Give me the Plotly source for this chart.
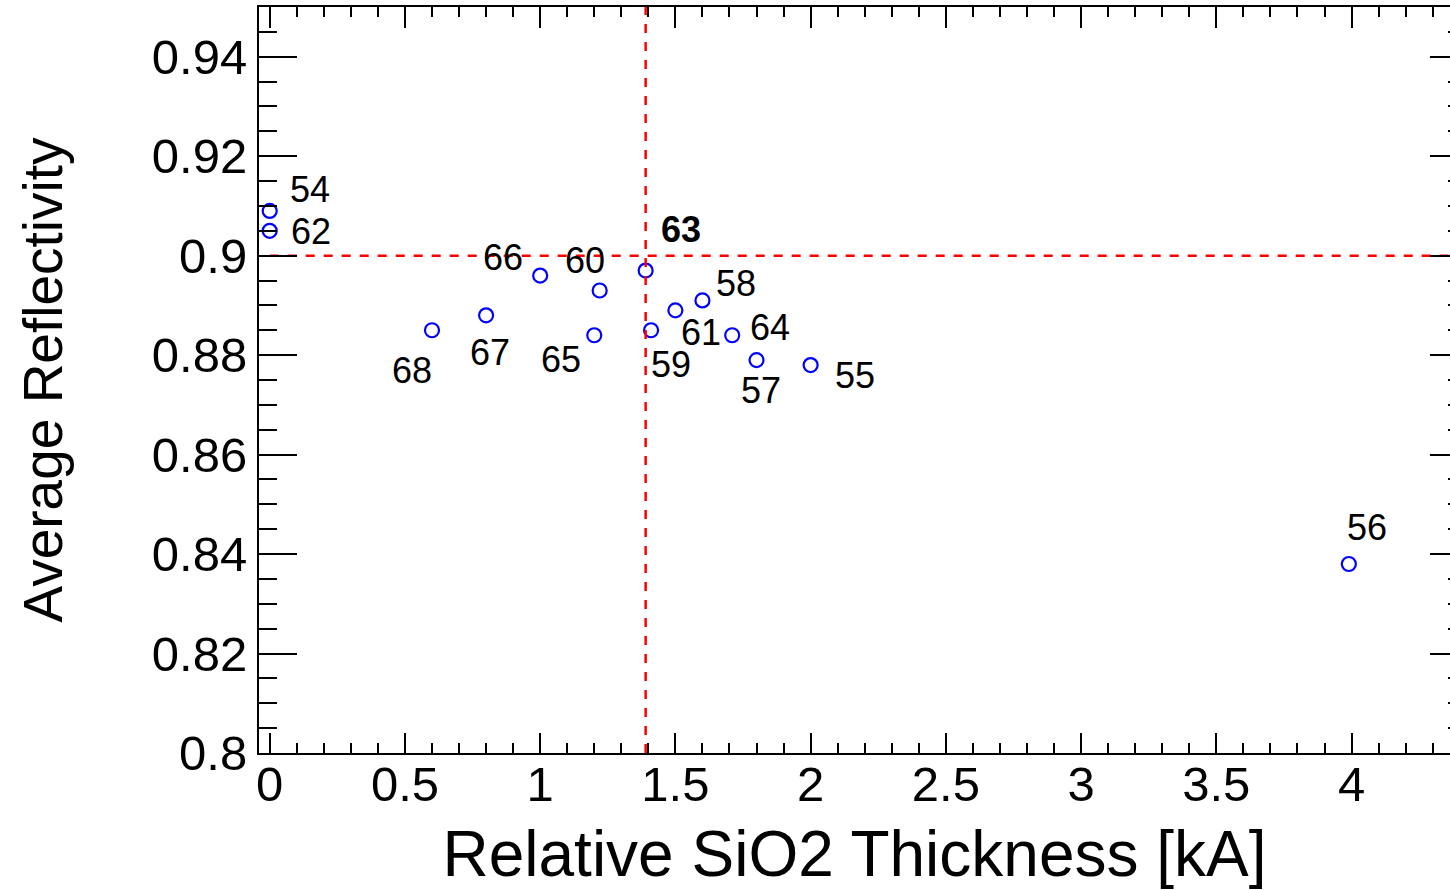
import plotly.graph_objects as go

# ---- data ----
run_ids = ["54", "62", "66", "60", "63", "58", "61", "64", "57", "55", "68", "67", "65", "59", "56"]
thickness = [0.0, 0.0, 1.0, 1.22, 1.39, 1.60, 1.50, 1.71, 1.80, 2.00, 0.60, 0.80, 1.20, 1.41, 3.99]
reflectivity = [0.909, 0.905, 0.896, 0.893, 0.897, 0.891, 0.889, 0.884, 0.879, 0.878, 0.885, 0.888, 0.884, 0.885, 0.838]
bold_ids = ["63"]

ref_thickness = 1.39
ref_reflectivity = 0.90

x_tick_vals = [0, 0.5, 1, 1.5, 2, 2.5, 3, 3.5, 4]
x_tick_text = ["0", "0.5", "1", "1.5", "2", "2.5", "3", "3.5", "4"]
y_tick_vals = [0.80, 0.82, 0.84, 0.86, 0.88, 0.90, 0.92, 0.94]
y_tick_text = ["0.8", "0.82", "0.84", "0.86", "0.88", "0.9", "0.92", "0.94"]

x_range = [-0.0396, 4.364]
y_range = [0.80, 0.95]

# label offsets in pixels (style only)
label_offsets = {
    "54": (40, 21), "62": (41, -1), "66": (-37, 18), "60": (-15, 30), "63": (35, 41),
    "58": (34, 17), "61": (26, -22), "64": (38, 8), "57": (4, -30), "55": (44, -10),
    "68": (-20, -40), "67": (4, -37), "65": (-33, -24), "59": (20, -34), "56": (18, 37),
}

FONT = "Liberation Sans, Arial, Helvetica, sans-serif"
DASH = "9px,9px"

fig = go.Figure()

# reference lines (drawn on the mirrored axes, which share the same ranges)
fig.add_trace(go.Scatter(x=[ref_thickness, ref_thickness], y=y_range, mode="lines",
                         xaxis="x2", yaxis="y2",
                         line=dict(color="#ff0000", width=2.5, dash=DASH),
                         hoverinfo="skip", showlegend=False))
fig.add_trace(go.Scatter(x=[0, x_range[1]], y=[ref_reflectivity, ref_reflectivity], mode="lines",
                         xaxis="x2", yaxis="y2",
                         line=dict(color="#ff0000", width=2.5, dash=DASH),
                         hoverinfo="skip", showlegend=False))

fig.add_trace(go.Scatter(x=thickness, y=reflectivity, mode="markers",
                         marker=dict(symbol="circle-open", size=14, color="#0000ff",
                                     line=dict(width=2.2, color="#0000ff")),
                         showlegend=False, cliponaxis=False))

for rid, xv, yv in zip(run_ids, thickness, reflectivity):
    dx, dy = label_offsets[rid]
    txt = f"<b>{rid}</b>" if rid in bold_ids else rid
    fig.add_annotation(x=xv, y=yv, xref="x", yref="y", text=txt, showarrow=False,
                       xshift=dx, yshift=dy, font=dict(family=FONT, size=36, color="black"))

axis_common = dict(showgrid=False, zeroline=False, linecolor="black", linewidth=2,
                   ticks="inside", tickcolor="black", tickwidth=2)

fig.update_layout(
    width=1450, height=890,
    margin=dict(l=259, r=0, t=7, b=137),
    paper_bgcolor="white", plot_bgcolor="white",
    font=dict(family=FONT, color="black"),
    xaxis=dict(**axis_common, range=x_range, showline=True, ticklen=20,
               tickvals=x_tick_vals, ticktext=x_tick_text,
               minor=dict(dtick=0.1, tick0=0, ticklen=10, ticks="inside", tickwidth=2, tickcolor="black"),
               tickfont=dict(size=49, family=FONT), ticklabelstandoff=-13,
               title=dict(text="Relative SiO2 Thickness [kA]", font=dict(size=64, family=FONT), standoff=27)),
    yaxis=dict(**axis_common, range=y_range, showline=True, ticklen=38,
               tickvals=y_tick_vals, ticktext=y_tick_text,
               minor=dict(dtick=0.005, tick0=0.8, ticklen=18, ticks="inside", tickwidth=2, tickcolor="black"),
               tickfont=dict(size=49, family=FONT), ticklabelstandoff=0,
               title=dict(text="Average Reflectivity", font=dict(size=55, family=FONT), standoff=72)),
    xaxis2=dict(**axis_common, overlaying="x", matches="x", side="top", anchor="y2", range=x_range,
                showline=True, ticklen=21, tickvals=x_tick_vals, showticklabels=False,
                minor=dict(dtick=0.1, tick0=0, ticklen=10, ticks="inside", tickwidth=2, tickcolor="black")),
    yaxis2=dict(**axis_common, overlaying="y", matches="y", side="right", anchor="x2", range=y_range,
                showline=False, ticklen=20, tickvals=y_tick_vals, showticklabels=False,
                minor=dict(dtick=0.005, tick0=0.8, ticklen=2, ticks="inside", tickwidth=2, tickcolor="black")),
)

fig.write_html("out.html")
